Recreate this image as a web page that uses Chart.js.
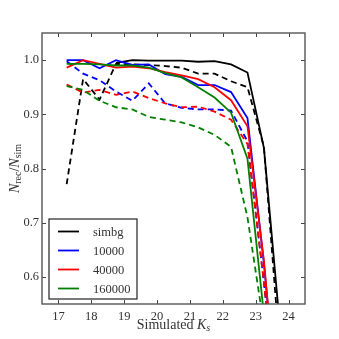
<!DOCTYPE html>
<html>
<head>
<meta charset="utf-8">
<script src="https://cdn.jsdelivr.net/npm/chart.js@4.4.0/dist/chart.umd.min.js"></script>
<style>
  html, body { margin: 0; padding: 0; background: #fff; }
  #wrap { width: 339px; height: 339px; }
</style>
</head>
<body>
<div id="wrap"><canvas id="chart"></canvas></div>
<script>
// simulated Ks bin centres
const ksBins = [17.25, 17.75, 18.25, 18.75, 19.25, 19.75, 20.25, 20.75, 21.25, 21.75, 22.25, 22.75, 23.25, 23.75];

// recovered fraction per run (solid / dashed)
const simbgSolid   = [null, null, null, 0.995, 1.0, 0.999, 0.999, 0.999, 0.997, 0.998, 0.992, 0.977, 0.838, 0.50];
const simbgDashed  = [0.771, 0.965, 0.927, 0.993, 0.992, 0.991, 0.989, 0.986, 0.975, 0.975, 0.961, 0.950, 0.840, 0.45];
const n10000Solid  = [1.0, 1.0, 0.985, 1.0, 0.991, 0.992, 0.974, 0.969, 0.954, 0.954, 0.941, 0.893, 0.625, 0.30];
const n10000Dashed = [0.998, 0.975, 0.963, 0.942, 0.925, 0.957, 0.920, 0.912, 0.909, 0.909, 0.907, 0.850, 0.590, 0.30];
const n40000Solid  = [0.986, 1.0, 0.993, 0.986, 0.988, 0.985, 0.978, 0.972, 0.965, 0.950, 0.926, 0.878, 0.630, 0.30];
const n40000Dashed = [0.955, 0.940, 0.945, 0.936, 0.942, 0.930, 0.920, 0.913, 0.914, 0.905, 0.890, 0.845, 0.590, 0.30];
const n160000Solid = [0.993, 0.993, 0.992, 0.990, 0.990, 0.986, 0.976, 0.968, 0.950, 0.931, 0.903, 0.818, 0.530, 0.20];
const n160000Dashed = [0.952, 0.945, 0.925, 0.913, 0.909, 0.895, 0.890, 0.885, 0.876, 0.862, 0.840, 0.710, 0.510, 0.20];

const seriesNames = ["simbg", "10000", "40000", "160000"];
const seriesColours = ["#000000", "#0000ff", "#ff0000", "#008000"];

const xTicks = [17, 18, 19, 20, 21, 22, 23, 24];
const yTicks = [0.6, 0.7, 0.8, 0.9, 1.0];

const FONT = '"Liberation Serif", "DejaVu Serif", serif';
const TEXT = "#333";

function points(values) {
  return values.map((v, i) => ({ x: ksBins[i], y: v }));
}

const runs = [
  [simbgSolid, simbgDashed],
  [n10000Solid, n10000Dashed],
  [n40000Solid, n40000Dashed],
  [n160000Solid, n160000Dashed],
];

const datasets = [];
runs.forEach((pair, i) => {
  datasets.push({ label: seriesNames[i], data: points(pair[0]), borderColor: seriesColours[i], borderWidth: 1.8 });
  datasets.push({ label: seriesNames[i] + " dashed", data: points(pair[1]), borderColor: seriesColours[i], borderWidth: 1.8, borderDash: [6, 4] });
});
// chart.js draws the first dataset on top, matplotlib the last one
datasets.reverse();

// mixed italic / subscript text, centred on (cx, cy)
function drawRich(ctx, parts, cx, cy) {
  const fontOf = p => (p.italic ? "italic " : "") + (p.sub ? 10 : 14) + "px " + FONT;
  let total = 0;
  parts.forEach(p => { ctx.font = fontOf(p); total += ctx.measureText(p.t).width; });
  let x = cx - total / 2;
  ctx.textAlign = "left";
  ctx.textBaseline = "middle";
  parts.forEach(p => {
    ctx.font = fontOf(p);
    ctx.fillText(p.t, x, cy + (p.sub ? 3 : 0));
    x += ctx.measureText(p.t).width;
  });
}

const framePlugin = {
  id: "frame",
  afterDraw(chart) {
    const { ctx, chartArea: a, scales } = chart;
    ctx.save();

    // inward ticks on all four sides
    ctx.strokeStyle = "#444";
    ctx.lineWidth = 1;
    ctx.beginPath();
    xTicks.forEach(v => {
      const px = Math.round(scales.x.getPixelForValue(v)) + 0.5;
      ctx.moveTo(px, a.bottom); ctx.lineTo(px, a.bottom - 4);
      ctx.moveTo(px, a.top); ctx.lineTo(px, a.top + 4);
    });
    yTicks.forEach(v => {
      const py = Math.round(scales.y.getPixelForValue(v)) + 0.5;
      ctx.moveTo(a.left, py); ctx.lineTo(a.left + 4, py);
      ctx.moveTo(a.right, py); ctx.lineTo(a.right - 4, py);
    });
    ctx.stroke();

    // frame
    ctx.strokeStyle = "#555";
    ctx.lineWidth = 1.4;
    ctx.strokeRect(a.left, a.top, a.right - a.left, a.bottom - a.top);

    // legend
    const lx = a.left + 7, ly = a.top + 186, lw = 88, lh = 80;
    ctx.fillStyle = "#fff";
    ctx.fillRect(lx, ly, lw, lh);
    ctx.strokeStyle = "#222";
    ctx.lineWidth = 1.2;
    ctx.strokeRect(lx, ly, lw, lh);
    ctx.font = "12.5px " + FONT;
    ctx.textAlign = "left";
    ctx.textBaseline = "middle";
    seriesNames.forEach((name, i) => {
      const y = ly + 12.5 + i * 19;
      ctx.strokeStyle = seriesColours[i];
      ctx.lineWidth = 1.8;
      ctx.beginPath();
      ctx.moveTo(lx + 9, y); ctx.lineTo(lx + 30, y);
      ctx.stroke();
      ctx.fillStyle = TEXT;
      ctx.fillText(name, lx + 44, y + 1);
    });

    // axis titles
    ctx.fillStyle = TEXT;
    drawRich(ctx, [{ t: "Simulated " }, { t: "K", italic: true }, { t: "s", italic: true, sub: true }],
      (a.left + a.right) / 2, 325);
    ctx.save();
    ctx.translate(15, (a.top + a.bottom) / 2);
    ctx.rotate(-Math.PI / 2);
    drawRich(ctx, [{ t: "N", italic: true }, { t: "rec", sub: true }, { t: "/" },
      { t: "N", italic: true }, { t: "sim", sub: true }], 0, 0);
    ctx.restore();

    ctx.restore();
  }
};

new Chart(document.getElementById("chart"), {
  type: "line",
  data: { datasets },
  options: {
    responsive: true,
    maintainAspectRatio: false,
    animation: false,
    layout: { padding: { top: 33, right: 34, left: 0, bottom: 0 } },
    elements: { point: { radius: 0 }, line: { tension: 0 } },
    plugins: { legend: { display: false }, tooltip: { enabled: false } },
    scales: {
      x: {
        type: "linear",
        min: 16.5,
        max: 24.5,
        grid: { display: false, drawTicks: false },
        border: { display: false },
        afterBuildTicks: s => { s.ticks = xTicks.map(v => ({ value: v })); },
        afterFit: s => { s.height = 35; },
        ticks: { padding: 5, color: TEXT, font: { family: FONT, size: 12.5 }, callback: v => String(v) }
      },
      y: {
        min: 0.55,
        max: 1.05,
        grid: { display: false, drawTicks: false },
        border: { display: false },
        afterBuildTicks: s => { s.ticks = yTicks.map(v => ({ value: v })); },
        afterFit: s => { s.width = 42; },
        ticks: { padding: 3, color: TEXT, font: { family: FONT, size: 12.5 }, callback: v => Number(v).toFixed(1) }
      }
    }
  },
  plugins: [framePlugin]
});
</script>
</body>
</html>
